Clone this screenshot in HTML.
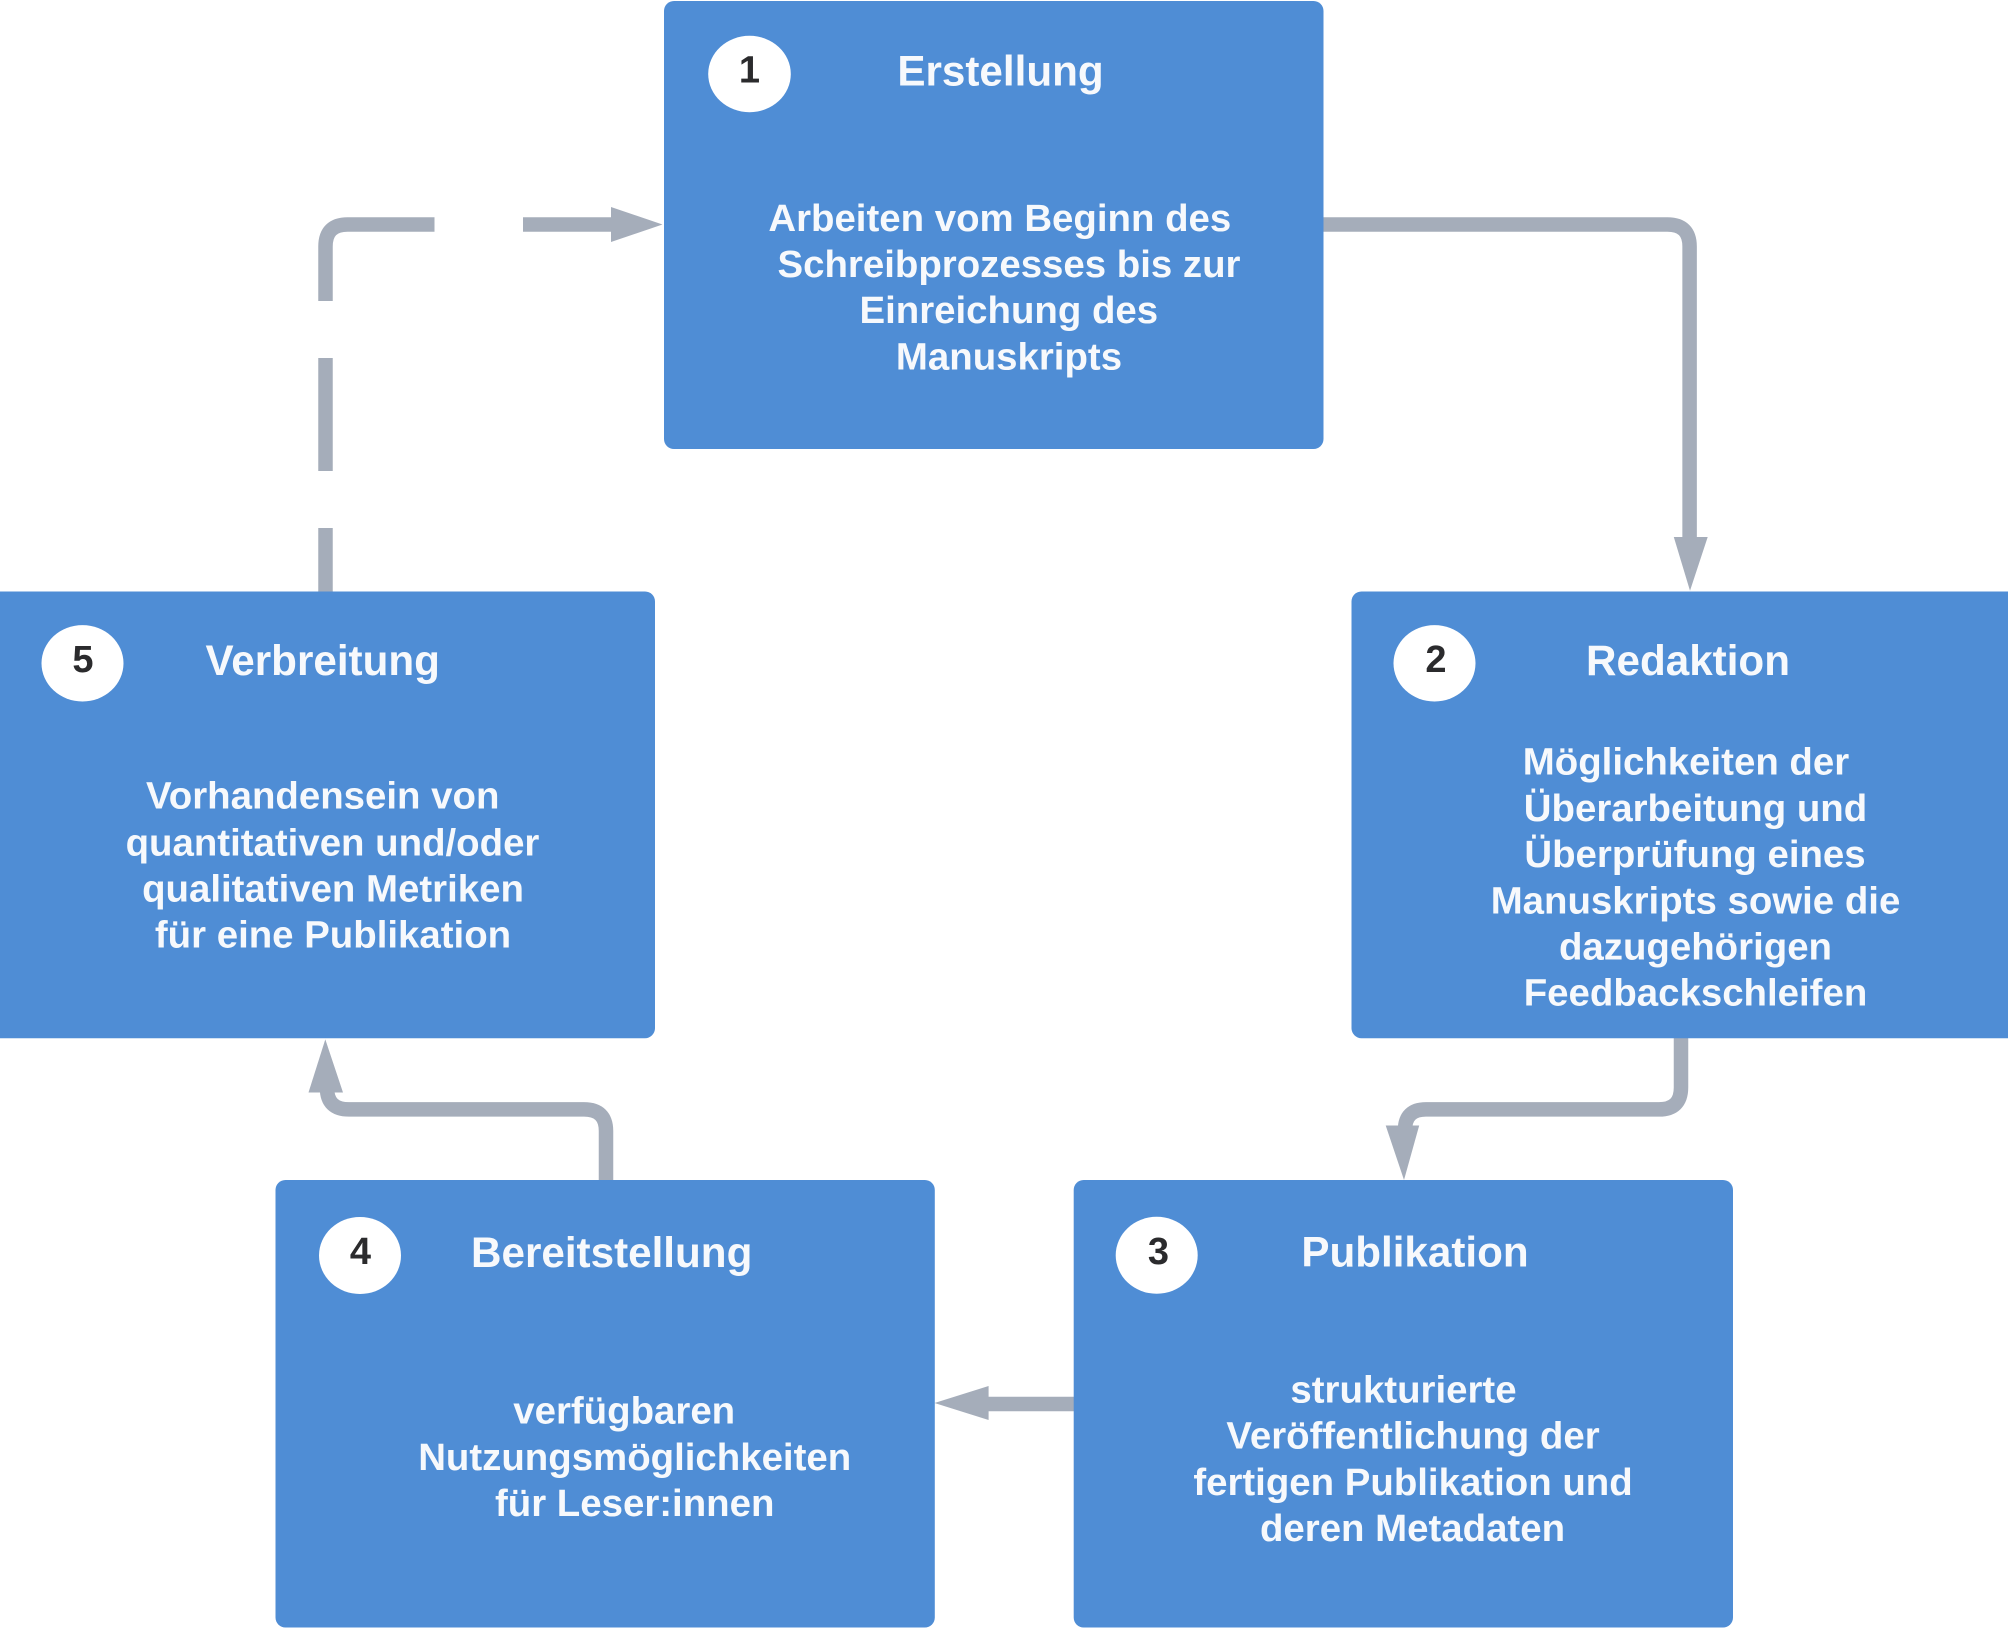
<!DOCTYPE html>
<html lang="de">
<head>
<meta charset="utf-8">
<title>Publikationszyklus</title>
<style>
html,body{margin:0;padding:0;background:#fff;width:2008px;height:1628px;overflow:hidden}
svg{display:block}
text{font-family:"Liberation Sans",Arial,sans-serif;font-weight:700;text-anchor:middle}
.t{font-size:42.2px;fill:#f7f9fc}
.b{font-size:38.4px;fill:#f7f9fc}
.n{font-size:38px;fill:#2b2b2d}
.c{fill:none;stroke:#a5adba;stroke-width:14.5}
.a{fill:#a5adba}
.r{fill:#4f8dd5}
.e{fill:#fff}
</style>
</head>
<body>
<svg xmlns="http://www.w3.org/2000/svg" width="2008" height="1628" viewBox="0 0 2008 1628">
<rect width="2008" height="1628" fill="#fff"/>

<!-- connector 5 to 1 (dashed) -->
<path class="c" d="M325.5 592V528"/>
<path class="c" d="M325.5 471V358"/>
<path class="c" d="M325.5 301V246.5Q325.5 224.5 347.5 224.5H434.5"/>
<path class="c" d="M523 224.5H612"/>
<polygon class="a" points="611,207 662.5,224.5 611,242"/>

<!-- connector 1 to 2 -->
<path class="c" d="M1320 224.5H1667.5Q1689.6 224.5 1689.6 246.5V540"/>
<polygon class="a" points="1673.8,537 1707.7,537 1690,590.7"/>

<!-- connector 2 to 3 -->
<path class="c" d="M1681 1036V1087.5Q1681 1109.4 1659 1109.4H1426Q1405 1109.4 1405 1130"/>
<polygon class="a" points="1385.7,1125.5 1419.2,1125.5 1404,1180"/>

<!-- connector 3 to 4 -->
<path class="c" d="M1076 1404H986"/>
<polygon class="a" points="988.6,1386 988.6,1420 934.5,1403"/>

<!-- connector 4 to 5 -->
<path class="c" d="M606 1182V1131Q606 1109.4 584 1109.4H349Q327 1109.4 327 1088"/>
<polygon class="a" points="308.5,1092.5 343,1092.5 325.3,1039.4"/>

<!-- box 1 -->
<rect class="r" x="664" y="1" width="659.5" height="448" rx="10"/>
<ellipse class="e" cx="749.5" cy="74" rx="41.3" ry="38.2"/>
<text class="n" x="749.5" y="82.5">1</text>
<text class="t" x="1000.5" y="85.6">Erstellung</text>
<text class="b" x="999.8" y="230.8">Arbeiten vom Beginn des</text>
<text class="b" x="1009" y="277">Schreibprozesses bis zur</text>
<text class="b" x="1008.8" y="323.2">Einreichung des</text>
<text class="b" x="1009" y="369.4">Manuskripts</text>

<!-- box 2 -->
<rect class="r" x="1351.5" y="591.5" width="668" height="446.7" rx="10"/>
<ellipse class="e" cx="1434.5" cy="663.3" rx="41" ry="38.2"/>
<text class="n" x="1436" y="672">2</text>
<text class="t" x="1688" y="675">Redaktion</text>
<text class="b" x="1686" y="774.7">Möglichkeiten der</text>
<text class="b" x="1695.5" y="820.9">Überarbeitung und</text>
<text class="b" x="1695" y="867.1">Überprüfung eines</text>
<text class="b" x="1695.5" y="913.3">Manuskripts sowie die</text>
<text class="b" x="1695.5" y="959.5">dazugehörigen</text>
<text class="b" x="1695.5" y="1005.7">Feedbackschleifen</text>

<!-- box 3 -->
<rect class="r" x="1073.7" y="1180" width="659.3" height="447.5" rx="10"/>
<ellipse class="e" cx="1156.7" cy="1255.3" rx="41" ry="38.5"/>
<text class="n" x="1158.5" y="1264">3</text>
<text class="t" x="1415" y="1266.7">Publikation</text>
<text class="b" x="1403.5" y="1402.4">strukturierte</text>
<text class="b" x="1413" y="1448.6">Veröffentlichung der</text>
<text class="b" x="1413" y="1494.8">fertigen Publikation und</text>
<text class="b" x="1412.5" y="1541">deren Metadaten</text>

<!-- box 4 -->
<rect class="r" x="275.5" y="1180" width="659.3" height="447.5" rx="10"/>
<ellipse class="e" cx="360" cy="1255.5" rx="41" ry="38.5"/>
<text class="n" x="360.5" y="1264">4</text>
<text class="t" x="611.7" y="1266.8">Bereitstellung</text>
<text class="b" x="634.7" y="1516">für Leser:innen</text>
<text class="b" x="624.2" y="1423.6">verfügbaren</text>
<text class="b" x="634.7" y="1469.8">Nutzungsmöglichkeiten</text>

<!-- box 5 -->
<rect class="r" x="-10" y="591.5" width="665" height="446.7" rx="10"/>
<ellipse class="e" cx="82.5" cy="663.3" rx="41" ry="38.2"/>
<text class="n" x="83" y="672">5</text>
<text class="t" x="322.7" y="675">Verbreitung</text>
<text class="b" x="322.7" y="808.6">Vorhandensein von</text>
<text class="b" x="332.5" y="855.3">quantitativen und/oder</text>
<text class="b" x="333" y="901.5">qualitativen Metriken</text>
<text class="b" x="333" y="947.7">für eine Publikation</text>
</svg>
</body>
</html>
